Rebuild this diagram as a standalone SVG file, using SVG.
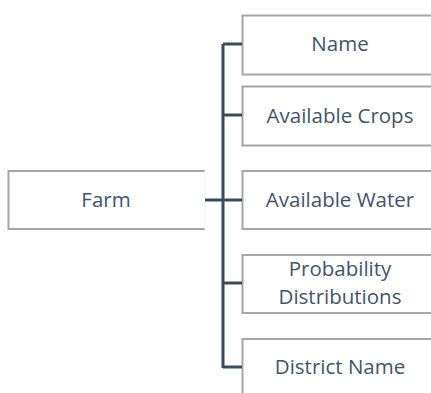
<svg xmlns="http://www.w3.org/2000/svg" width="431" height="393" viewBox="0 0 431 393">
<style>
.box{fill:#ffffff;stroke:#a6a6a6;stroke-width:2}
.lbl{font-family:"Open Sans","Liberation Sans",sans-serif;font-size:20.5px;fill:#44546a;text-anchor:middle}
.con{fill:none;stroke:#3b4a5f;stroke-width:3}
</style>
<rect width="431" height="393" fill="#ffffff"/>
<g id="farm">
<path d="M205,171 H8.5 V229 H205" class="box"/>
<line x1="205" y1="171" x2="205" y2="229" stroke="#f0f0f0" stroke-width="1"/>
<text x="106" y="207" class="lbl">Farm</text>
</g>
<g id="name">
<rect x="242.5" y="15.5" width="196" height="59" class="box"/>
<text x="340" y="51" class="lbl">Name</text>
</g>
<g id="available-crops">
<rect x="242.5" y="86.5" width="196" height="59" class="box"/>
<text x="340" y="122.5" class="lbl">Available Crops</text>
</g>
<g id="available-water">
<rect x="242.5" y="171" width="196" height="58" class="box"/>
<text x="340" y="207" class="lbl">Available Water</text>
</g>
<g id="probability-distributions">
<rect x="242.5" y="255" width="196" height="58" class="box"/>
<text x="340" y="276" class="lbl">Probability</text>
<text x="340" y="304" class="lbl">Distributions</text>
</g>
<g id="district-name">
<rect x="242.5" y="339" width="196" height="58" class="box"/>
<text x="340" y="373.5" class="lbl">District Name</text>
</g>
<g id="connectors">
<path class="con" d="M223,44 V368"/>
<path class="con" d="M205,200 H242"/>
<path class="con" d="M223,44 H242 M223,115 H242 M223,283 H242 M223,367 H242"/>
</g>
</svg>
